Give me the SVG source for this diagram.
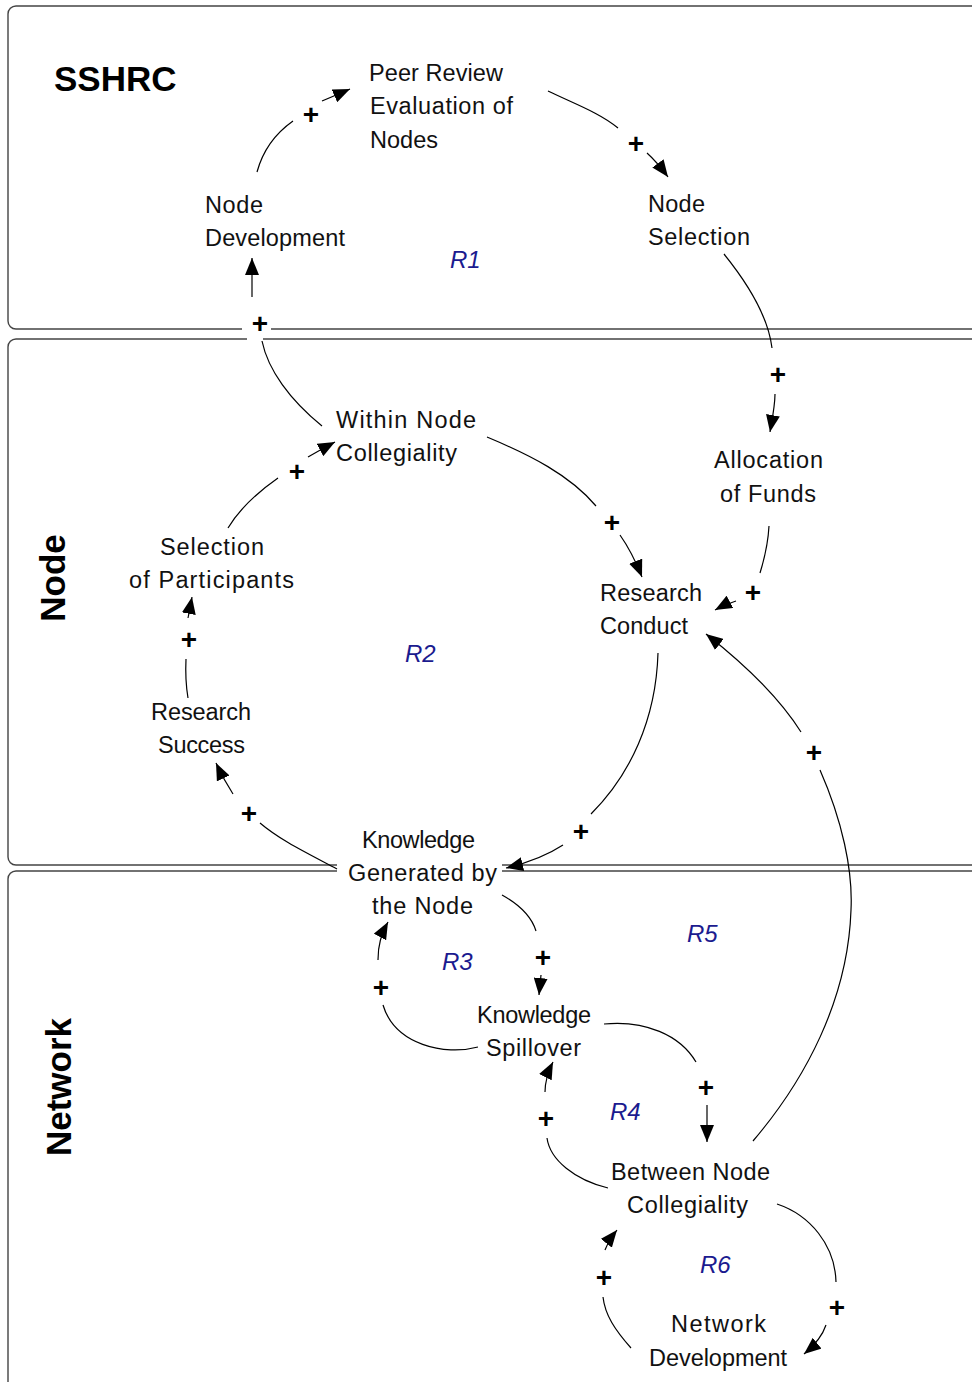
<svg xmlns="http://www.w3.org/2000/svg" width="972" height="1382" viewBox="0 0 972 1382">
<defs>
<marker id="ah" markerUnits="userSpaceOnUse" viewBox="0 0 17 14" refX="17" refY="7" markerWidth="17" markerHeight="14" orient="auto">
<path d="M0,0 L17,7 L0,14 z" fill="#000"/>
</marker>
<style>
.panel{fill:none;stroke:#444;stroke-width:1.4}
.lbl{font-family:"Liberation Sans",Arial,sans-serif;font-size:23.5px;fill:#111}
.title{font-family:"Liberation Sans",Arial,sans-serif;font-size:35px;font-weight:bold;fill:#000}
.loop{font-family:"Liberation Sans",Arial,sans-serif;font-size:24px;font-style:italic;fill:#1b1b8f}
.pol{font-family:"Liberation Sans",Arial,sans-serif;font-size:28px;font-weight:bold;fill:#000;text-anchor:middle}
.c{fill:none;stroke:#000;stroke-width:1.2}
.a{fill:none;stroke:#000;stroke-width:1.2;marker-end:url(#ah)}
</style>
</defs>
<rect width="972" height="1382" fill="#fff"/>
<g id="panels">
<path class="panel" d="M1000,6 H16 A8,8 0 0 0 8,14 V321 A8,8 0 0 0 16,329 H242 M271,329 H1000"/>
<path class="panel" d="M1000,339 H263 M247,339 H16 A8,8 0 0 0 8,347 V857 A8,8 0 0 0 16,865 H337 M502,865 H1000"/>
<path class="panel" d="M1000,871 H502 M337,871 H16 A8,8 0 0 0 8,879 V1400"/>
<text class="title" x="54" y="91">SSHRC</text>
<text class="title" transform="translate(65,578) rotate(-90)" text-anchor="middle">Node</text>
<text class="title" transform="translate(71,1087) rotate(-90)" text-anchor="middle">Network</text>
</g>
<g id="connectors">
<path class="c" d="M257,172 C263,150 276,133 293,121"/>
<path class="a" d="M322,101 Q334,96 350,89"/>
<path class="c" d="M548,91 C575,104 600,113 618,128"/>
<path class="a" d="M647,153 Q657,162 668,177"/>
<path class="c" d="M724,254 C745,280 768,315 772,348"/>
<path class="a" d="M775,394 C775,405 773,415 770,432"/>
<path class="c" d="M769,526 C768,545 764,560 760,573"/>
<path class="a" d="M736,601 Q726,604 715,610"/>
<path class="c" d="M487,437 C530,455 570,475 596,506"/>
<path class="a" d="M620,535 Q632,552 642,577"/>
<path class="c" d="M658,653 C656,720 630,775 591,814"/>
<path class="a" d="M563,845 Q540,860 506,868"/>
<path class="c" d="M337,869 C305,852 280,840 260,823"/>
<path class="a" d="M233,794 Q224,780 216,763"/>
<path class="c" d="M188,698 Q185,680 186,659"/>
<path class="a" d="M188,618 L192,597"/>
<path class="c" d="M228,528 C240,508 258,492 278,478"/>
<path class="a" d="M308,457 Q320,450 335,442"/>
<path class="c" d="M262,341 C268,370 290,400 322,426"/>
<path class="a" d="M252,297 L252,258"/>
<path class="c" d="M753,1141 C805,1080 848,1000 851,910 C853,870 842,820 820,770"/>
<path class="a" d="M801,732 C782,702 752,670 706,634"/>
<path class="c" d="M502,895 C520,905 532,918 536,931"/>
<path class="a" d="M541,975 L539,995"/>
<path class="c" d="M478,1047 C445,1056 395,1045 383,1005"/>
<path class="a" d="M378,960 C378,945 381,935 388,922"/>
<path class="c" d="M604,1024 C645,1020 680,1035 696,1062"/>
<path class="a" d="M707,1105 L707,1142"/>
<path class="c" d="M608,1188 C575,1180 550,1160 547,1138"/>
<path class="a" d="M545,1092 C545,1080 548,1072 553,1062"/>
<path class="c" d="M777,1204 C810,1215 835,1245 836,1282"/>
<path class="a" d="M826,1325 C822,1337 815,1345 804,1354"/>
<path class="c" d="M631,1348 C615,1330 605,1315 603,1297"/>
<path class="a" d="M605,1250 Q609,1240 617,1230"/>
<g id="polarities">
<text class="pol" x="311" y="124">+</text>
<text class="pol" x="636" y="153">+</text>
<text class="pol" x="260" y="333">+</text>
<text class="pol" x="778" y="384">+</text>
<text class="pol" x="297" y="481">+</text>
<text class="pol" x="612" y="532">+</text>
<text class="pol" x="189" y="649">+</text>
<text class="pol" x="753" y="602">+</text>
<text class="pol" x="249" y="823">+</text>
<text class="pol" x="581" y="841">+</text>
<text class="pol" x="814" y="762">+</text>
<text class="pol" x="543" y="967">+</text>
<text class="pol" x="381" y="997">+</text>
<text class="pol" x="706" y="1097">+</text>
<text class="pol" x="546" y="1128">+</text>
<text class="pol" x="604" y="1287">+</text>
<text class="pol" x="837" y="1317">+</text>
</g>
</g>
<g id="loops">
<text class="loop" x="450" y="268">R1</text>
<text class="loop" x="405" y="662">R2</text>
<text class="loop" x="442" y="970">R3</text>
<text class="loop" x="610" y="1120">R4</text>
<text class="loop" x="687" y="942">R5</text>
<text class="loop" x="700" y="1273">R6</text>
</g>
<g id="peer-review">
<text class="lbl" x="369" y="81" textLength="134">Peer Review</text>
<text class="lbl" x="370" y="114" textLength="143">Evaluation of</text>
<text class="lbl" x="370" y="148" textLength="68">Nodes</text>
</g>
<g id="node-development">
<text class="lbl" x="205" y="213" textLength="58">Node</text>
<text class="lbl" x="205" y="246" textLength="140">Development</text>
</g>
<g id="node-selection">
<text class="lbl" x="648" y="212" textLength="57">Node</text>
<text class="lbl" x="648" y="245" textLength="102">Selection</text>
</g>
<g id="within-node-collegiality">
<text class="lbl" x="336" y="428" textLength="140">Within Node</text>
<text class="lbl" x="336" y="461" textLength="121">Collegiality</text>
</g>
<g id="allocation-of-funds">
<text class="lbl" x="714" y="468" textLength="109">Allocation</text>
<text class="lbl" x="720" y="502" textLength="96">of Funds</text>
</g>
<g id="selection-of-participants">
<text class="lbl" x="160" y="555" textLength="104">Selection</text>
<text class="lbl" x="129" y="588" textLength="165">of Participants</text>
</g>
<g id="research-conduct">
<text class="lbl" x="600" y="601" textLength="102">Research</text>
<text class="lbl" x="600" y="634" textLength="88">Conduct</text>
</g>
<g id="research-success">
<text class="lbl" x="151" y="720" textLength="100">Research</text>
<text class="lbl" x="158" y="753" textLength="87">Success</text>
</g>
<g id="knowledge-generated">
<text class="lbl" x="362" y="848" textLength="113">Knowledge</text>
<text class="lbl" x="348" y="881" textLength="149">Generated by</text>
<text class="lbl" x="372" y="914" textLength="101">the Node</text>
</g>
<g id="knowledge-spillover">
<text class="lbl" x="477" y="1023" textLength="114">Knowledge</text>
<text class="lbl" x="486" y="1056" textLength="95">Spillover</text>
</g>
<g id="between-node-collegiality">
<text class="lbl" x="611" y="1180" textLength="159">Between Node</text>
<text class="lbl" x="627" y="1213" textLength="121">Collegiality</text>
</g>
<g id="network-development">
<text class="lbl" x="671" y="1332" textLength="95">Network</text>
<text class="lbl" x="649" y="1366" textLength="138">Development</text>
</g>
</svg>
